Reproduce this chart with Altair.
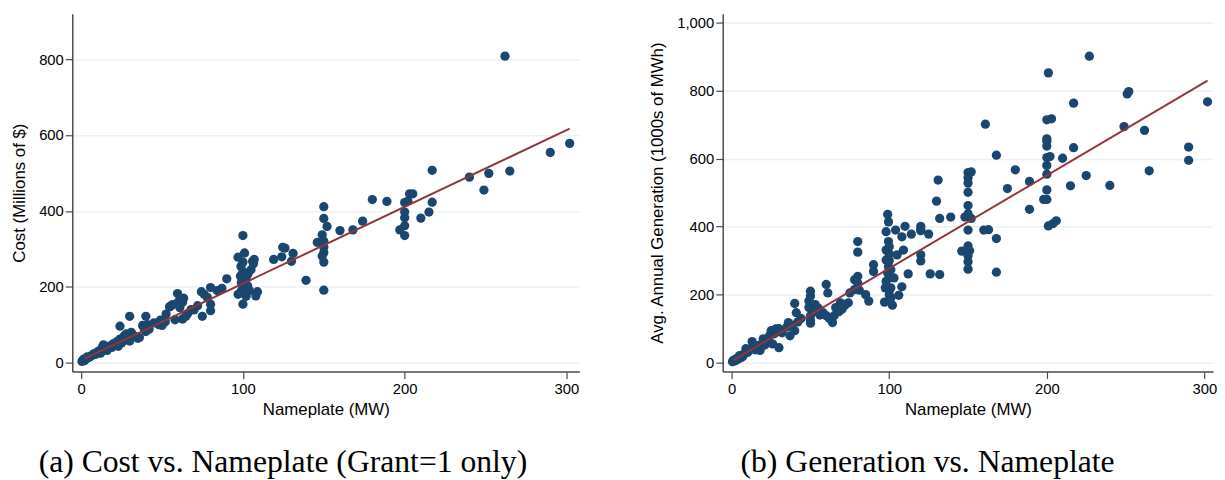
import altair as alt
import pandas as pd

# ---------------- data ----------------
a_nameplate = [0.5, 1, 1.5, 2, 2.5, 3, 3.7, 4, 5, 6, 7, 8, 9, 10, 11, 12, 13, 13.8, 14, 15,
               16, 17, 18, 19, 20, 21, 22, 23, 24, 24, 25, 26, 27, 28, 29, 30, 30, 31, 33, 35,
               36, 38, 39, 40, 40, 41, 42,
               45, 48, 49, 50, 52, 52.5, 54.6, 55.6, 56.6, 58, 59.6, 60, 61, 62.7, 62.7, 63.3, 64.8, 66, 68, 69.8,
               72, 74.3, 74.9, 76, 78, 80, 80, 80, 84, 87, 90,
               97, 97, 98.5, 98.8, 99, 99, 100, 100, 100, 100, 100, 101, 101, 102, 102, 103, 103, 104, 105, 106,
               106.5, 107, 108, 109,
               119, 124, 124.6, 126, 130, 131, 139, 146, 149, 149, 150, 150, 150, 150, 150, 150, 150, 152, 160, 168,
               174, 180, 189,
               197, 200, 200, 200, 200, 200, 202, 203, 205, 210, 215, 217, 217,
               240, 249, 252, 262, 265, 290, 302]
a_cost = [3, 6, 9, 5, 8, 10, 15, 12, 14, 17, 20, 24, 22, 28, 30, 25, 40, 47, 35, 38,
          32, 42, 44, 40, 50, 46, 55, 43, 62, 96, 52, 67, 72, 76, 60, 57, 122, 80, 70, 64,
          66, 98, 90, 82, 122, 100, 88,
          105, 100, 112, 98, 108, 128, 147, 150, 153, 113, 182, 160, 145, 115, 159, 170, 122, 130, 140, 139,
          150, 187, 122, 180, 172, 137, 154, 198, 190, 196, 221,
          180, 278, 228, 254, 211, 189, 335, 154, 200, 240, 265, 193, 289, 175, 220, 202, 233, 190, 245, 267,
          261, 272, 176, 187,
          272, 279, 304, 302, 267, 288, 217, 317, 337, 281, 411, 380, 305, 265, 191, 290, 320, 359, 348, 350,
          373, 430, 425,
          350, 335, 361, 382, 397, 422, 426, 445, 445, 381, 397, 423, 507,
          489, 455, 499, 808, 505, 554, 578]

b_nameplate = [0.5, 1, 2, 3, 4, 5, 6, 7, 8, 9, 10, 11, 12, 13, 14, 15, 16, 17, 18, 19,
               20, 21, 22, 23, 24, 25, 26, 27, 28, 29, 30, 30, 32, 35, 36, 37, 38, 40, 40, 41,
               42, 44,
               49, 49, 50, 50, 50, 50, 50, 52, 53, 55, 56, 58, 60, 61, 60, 62, 64, 65, 66, 68,
               69, 70, 72, 74, 75, 78, 78, 80, 80, 80, 80, 81, 85, 87, 90, 90,
               97, 97.5, 98, 98, 98, 98, 99, 99, 99.5, 99.5, 99.5, 100, 100, 100, 100, 100, 101, 101, 101, 102,
               103, 104, 105, 106, 108, 108, 109, 110, 112, 114, 120, 120, 120, 120, 120, 125, 126, 130, 131, 132,
               132, 139,
               146, 148, 150, 150, 150, 150, 150, 150, 150, 150, 150, 150, 150, 151, 152, 152, 160, 163, 161, 168,
               168, 168, 175, 180, 189, 189,
               198, 200, 200, 200, 200, 200, 200, 200, 200, 200, 201, 201, 202, 203, 204, 206, 210, 215, 217, 217,
               225, 227,
               240, 249, 251, 252, 262, 265, 290, 290, 302]
b_generation = [3, 7, 5, 12, 10, 21, 15, 18, 26, 41, 30, 35, 41, 62, 45, 38, 50, 47, 36, 55,
                70, 52, 60, 65, 79, 94, 55, 85, 99, 92, 44, 100, 88, 105, 118, 79, 110, 94, 174, 147,
                120, 130,
                162, 181, 210, 196, 138, 116, 125, 150, 171, 160, 140, 147, 230, 205, 138, 130, 118, 138, 162, 150,
                176, 157, 170, 176, 205, 215, 244, 234, 254, 356, 325, 213, 200, 181, 288, 268,
                178, 220, 239, 302, 331, 385, 436, 264, 414, 356, 283, 341, 250, 200, 320, 300, 273, 220, 191, 169,
                249, 390, 317, 198, 223, 370, 331, 401, 261, 378, 401, 388, 392, 317, 299, 378, 261, 475, 537, 259,
                424, 428,
                328, 428, 559, 544, 528, 501, 462, 438, 390, 343, 314, 297, 275, 329, 424, 561, 390, 391, 701, 610,
                365, 266, 512, 567, 533, 451,
                480, 480, 508, 554, 580, 603, 637, 651, 658, 714, 852, 402, 606, 717, 409, 417, 601, 520, 632, 763,
                550, 901,
                521, 694, 790, 797, 683, 564, 634, 595, 767]

# fitted lines (endpoints)
fit_a_nameplate = [1.8, 302]
fit_a_cost = [10, 617]
fit_b_nameplate = [1, 302]
fit_b_generation = [7, 829]

x_ticks = [0, 100, 200, 300]
a_y_ticks = [0, 200, 400, 600, 800]
b_y_ticks = [0, 200, 400, 600, 800, 1000]

caption_a = "(a) Cost vs. Nameplate (Grant=1 only)"
caption_b = "(b) Generation vs. Nameplate"

NAVY = "#1a476f"
MAROON = "#90353b"
GRID = "#eaf2f3"
AXIS = "#4a4a4a"


def panel(xs, ys, fx, fy, xdom, ydom, yticks, ytitle, yfmt, width, height, caption, cap_dx):
    df = pd.DataFrame({"x": xs, "y": ys})
    fit = pd.DataFrame({"x": fx, "y": fy})
    xenc = alt.X("x:Q",
                 scale=alt.Scale(domain=xdom, nice=False, zero=False),
                 axis=alt.Axis(values=x_ticks, grid=False, title="Nameplate (MW)",
                               labelPadding=3, titlePadding=5))
    yenc = alt.Y("y:Q",
                 scale=alt.Scale(domain=ydom, nice=False, zero=False),
                 axis=alt.Axis(values=yticks, grid=True, title=ytitle, format=yfmt,
                               labelPadding=2, titlePadding=10))
    pts = alt.Chart(df).mark_circle(size=88, color=NAVY, opacity=1).encode(x=xenc, y=yenc)
    ln = alt.Chart(fit).mark_line(color=MAROON, strokeWidth=2).encode(x=xenc, y=yenc)
    return alt.layer(pts, ln).properties(
        width=width, height=height,
        title=alt.TitleParams(text=caption, orient="bottom", anchor="start", frame="group",
                              dx=cap_dx, offset=31, font="Liberation Serif", fontSize=32,
                              fontWeight="normal", color="black"))


pa = panel(a_nameplate, a_cost, fit_a_nameplate, fit_a_cost, [-5.5, 308], [-23.5, 920],
           a_y_ticks, "Cost (Millions of $)", "d", 513, 362, caption_a, -34)
pb = panel(b_nameplate, b_generation, fit_b_nameplate, fit_b_generation, [-5.7, 305.5], [-26, 1026],
           b_y_ticks, "Avg. Annual Generation (1000s of MWh)", ",d", 496, 362, caption_b, 18)

chart = alt.hconcat(pa, pb, spacing=70).properties(
    padding={"left": 2, "top": 3, "right": 0, "bottom": 0},
    background="white",
).configure_axis(
    domainColor=AXIS, domainWidth=1.5, tickColor=AXIS, tickWidth=1.2, tickSize=7,
    labelFont="Liberation Sans", labelFontSize=15, labelColor="black",
    titleFont="Liberation Sans", titleFontSize=17, titleFontWeight="normal", titleColor="black",
    gridColor=GRID, gridWidth=1.5,
).configure_view(stroke=None)

chart.save("out.html", embed_options={"renderer": "svg", "actions": False})
